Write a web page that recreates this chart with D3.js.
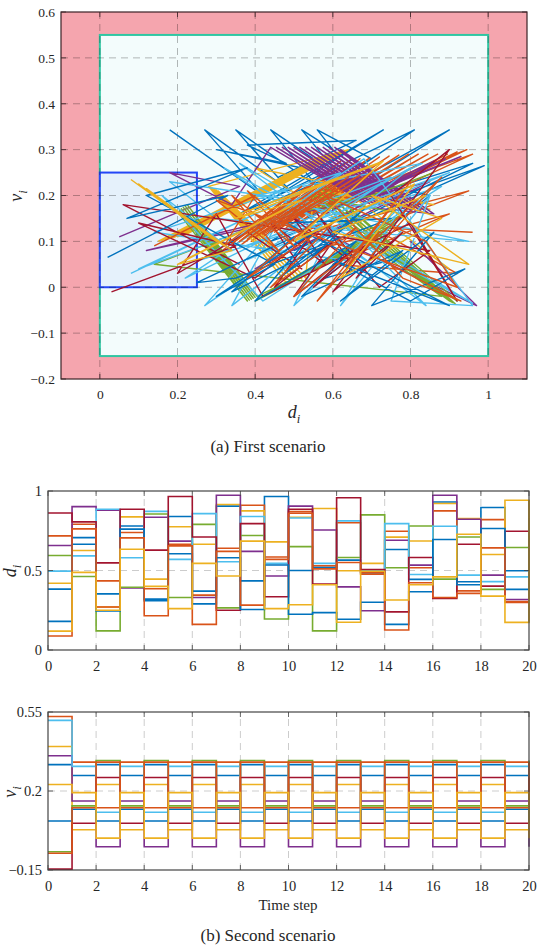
<!DOCTYPE html>
<html><head><meta charset="utf-8">
<script src="https://cdn.jsdelivr.net/npm/d3@7"></script>
<style>body{margin:0;background:#fff} text{font-family:"Liberation Serif","DejaVu Serif",serif;fill:#262626}</style>
</head><body><svg id="c" width="537" height="946"></svg>
<script>
// ---------- DATA ----------
const agentColors = ["#0072BD","#D95319","#EDB120","#7E2F8E","#77AC30","#4DBEEE","#A2142F","#0072BD","#D95319","#EDB120"];

// Scenario 1: (d_i, v_i) trajectories per agent
const trajA1 = [[0.18,0.343],[0.42,0.20],[0.27,0.343],[0.49,0.21],[0.35,0.343],[0.56,0.22],[0.44,0.343],[0.62,0.24],[0.52,0.343],[0.60,0.30],[0.56,0.343],[0.70,0.28],[0.40,0.17],[0.73,0.343],[0.36,0.16],[0.81,0.343],[0.42,0.12],[0.90,0.343],[0.44,0.10],[0.99,0.265],[0.50,0.08],[0.96,0.27],[0.62,0.18],[0.75,0.06],[0.58,0.02],[0.85,0.20],[0.30,0.30],[0.48,0.27],[0.38,0.31],[0.66,0.32],[0.46,0.24]];
const trajA2 = [[0.30,0.07],[0.62,0.275],[0.33,0.08],[0.645,0.278],[0.36,0.09],[0.67,0.28],[0.39,0.10],[0.695,0.282],[0.42,0.11],[0.72,0.284],[0.45,0.12],[0.745,0.286],[0.48,0.13],[0.77,0.288],[0.51,0.14],[0.795,0.29],[0.54,0.15],[0.82,0.29],[0.57,0.16],[0.845,0.29],[0.60,0.17],[0.87,0.29],[0.62,0.175],[0.895,0.29],[0.64,0.18],[0.92,0.295],[0.66,0.185],[0.945,0.30],[0.44,0.13],[0.96,0.29],[0.50,0.11],[0.95,0.21],[0.55,0.08],[0.90,0.16],[0.60,0.05],[0.92,0.03],[0.70,0.13],[0.96,0.12]];
const trajA3 = [[0.15,0.10],[0.57,0.285],[0.16,0.102],[0.58,0.288],[0.17,0.104],[0.59,0.29],[0.18,0.106],[0.60,0.292],[0.19,0.108],[0.61,0.294],[0.20,0.11],[0.62,0.296],[0.21,0.112],[0.63,0.298],[0.22,0.114],[0.64,0.30],[0.28,0.22],[0.48,0.01],[0.285,0.218],[0.49,0.012],[0.29,0.216],[0.50,0.014],[0.295,0.214],[0.51,0.016],[0.30,0.212],[0.52,0.018],[0.305,0.21],[0.53,0.02],[0.55,0.20],[0.85,0.17],[0.56,0.21],[0.86,0.18],[0.40,0.26],[0.70,0.10],[0.60,0.23],[0.90,0.04]];
const trajA4 = [[0.05,0.11],[0.36,0.22],[0.18,0.25],[0.34,0.18],[0.44,0.305],[0.68,0.185],[0.455,0.305],[0.695,0.182],[0.47,0.305],[0.71,0.18],[0.485,0.305],[0.725,0.178],[0.50,0.305],[0.74,0.176],[0.515,0.305],[0.755,0.174],[0.53,0.305],[0.77,0.172],[0.545,0.305],[0.785,0.17],[0.56,0.305],[0.80,0.168],[0.575,0.305],[0.815,0.166],[0.59,0.305],[0.83,0.164],[0.605,0.305],[0.845,0.162],[0.62,0.30],[0.86,0.16],[0.62,0.18],[0.93,0.285],[0.60,0.17],[0.89,0.28],[0.58,0.16],[0.86,0.275],[0.40,0.04],[0.85,0.23],[0.12,0.08],[0.50,0.15],[0.97,-0.04],[0.80,0.10]];
const trajA5 = [[0.20,0.165],[0.38,-0.03],[0.205,0.168],[0.385,-0.028],[0.21,0.171],[0.39,-0.026],[0.215,0.174],[0.395,-0.024],[0.22,0.177],[0.40,-0.022],[0.225,0.18],[0.405,-0.02],[0.74,0.12],[0.40,-0.03],[0.75,0.13],[0.405,-0.027],[0.76,0.14],[0.41,-0.024],[0.77,0.15],[0.415,-0.021],[0.78,0.16],[0.54,0.20],[0.90,-0.03],[0.55,0.205],[0.905,-0.032],[0.56,0.21],[0.91,-0.034],[0.57,0.215],[0.915,-0.036],[0.58,0.22],[0.92,-0.03],[0.60,0.15],[0.88,-0.02],[0.14,0.05],[0.45,0.15],[0.70,0.20],[0.86,0.25]];
const trajA6 = [[0.08,0.03],[0.55,0.22],[0.10,0.04],[0.75,0.24],[0.27,-0.04],[0.45,0.13],[0.34,-0.04],[0.60,0.13],[0.50,-0.04],[0.78,0.18],[0.62,-0.04],[0.85,0.20],[0.75,-0.03],[0.96,-0.04],[0.68,0.28],[0.22,0.02],[0.83,0.27],[0.40,0.20],[0.95,0.10],[0.30,0.15],[0.18,0.23],[0.58,0.18],[0.84,-0.04],[0.36,0.27],[0.96,-0.035],[0.32,0.26],[0.70,0.05],[0.14,0.12],[0.62,0.25],[0.26,0.06],[0.88,0.22],[0.42,-0.03],[0.16,0.20],[0.34,0.08],[0.90,0.25],[0.38,0.06],[0.80,0.26],[0.46,0.03]];
const trajA7 = [[0.03,-0.01],[0.35,0.09],[0.10,0.14],[0.40,0.02],[0.55,0.12],[0.45,0.00],[0.60,0.10],[0.50,-0.02],[0.65,0.08],[0.55,0.0],[0.70,0.10],[0.60,-0.01],[0.78,0.12],[0.66,0.02],[0.90,0.30],[0.75,0.20],[0.92,-0.03],[0.80,0.14],[0.42,-0.02],[0.30,0.16],[0.20,0.03],[0.38,0.12],[0.52,0.04],[0.44,0.14],[0.58,0.05],[0.50,0.15],[0.64,0.06],[0.56,0.16],[0.72,0.0],[0.85,0.08],[0.06,0.18],[0.36,0.05]];
const trajA8 = [[0.02,0.065],[0.33,0.20],[0.07,0.15],[0.38,0.26],[0.12,0.20],[0.45,0.05],[0.30,-0.02],[0.55,0.12],[0.40,-0.03],[0.66,0.10],[0.52,-0.02],[0.78,0.08],[0.62,-0.03],[0.86,0.12],[0.70,-0.04],[0.94,0.04],[0.80,-0.03],[0.60,0.06],[0.90,-0.04],[0.48,0.14],[0.75,0.15],[0.35,0.02],[0.25,0.01],[0.50,0.11],[0.34,-0.01],[0.58,0.09],[0.46,0.02],[0.68,0.17],[0.54,0.06]];
const trajA9 = [[0.14,0.09],[0.40,0.20],[0.32,0.09],[0.52,0.22],[0.34,0.095],[0.55,0.225],[0.36,0.10],[0.58,0.23],[0.38,0.105],[0.61,0.235],[0.40,0.11],[0.64,0.24],[0.42,0.115],[0.67,0.245],[0.44,0.12],[0.70,0.25],[0.38,0.02],[0.60,0.14],[0.44,0.00],[0.66,0.13],[0.50,-0.02],[0.72,0.12],[0.56,-0.03],[0.80,0.23],[0.64,0.05],[0.88,0.24],[0.70,0.07],[0.93,-0.03],[0.78,0.02],[0.58,0.20],[0.84,0.10],[0.92,0.0],[0.30,0.19],[0.46,0.08],[0.34,0.20],[0.50,0.09],[0.38,0.21],[0.54,0.10]];
const trajA10 = [[0.08,0.235],[0.30,0.10],[0.10,0.225],[0.32,0.09],[0.12,0.215],[0.34,0.08],[0.20,0.05],[0.50,0.18],[0.22,0.06],[0.52,0.19],[0.35,0.15],[0.72,0.27],[0.36,0.16],[0.73,0.275],[0.50,0.10],[0.80,0.22],[0.52,0.11],[0.81,0.225],[0.62,0.02],[0.88,0.15],[0.70,0.20],[0.95,0.05],[0.60,0.12],[0.84,0.20]];
const trajectories1 = [trajA1,trajA2,trajA3,trajA4,trajA5,trajA6,trajA7,trajA8,trajA9,trajA10];

// Scenario 1 regions
const safeRegion = {d0:0, d1:1, v0:-0.15, v1:0.55};
const targetRegion = {d0:0, d1:0.25, v0:0, v1:0.25};

// Scenario 2: d_i over time steps 0..20
const timeSteps = d3.range(0,21);
const dA1 = [.383,.707,.353,.78,.32,.84,.37,.905,.435,.965,.50,.52,.565,.485,.632,.444,.931,.429,.896,.498,.83];
const dA2 = [.718,.791,.435,.739,.385,.665,.345,.64,.91,.585,.87,.53,.80,.49,.747,.517,.875,.372,.82,.305,.305];
const dA3 = [.42,.626,.27,.837,.446,.775,.665,.915,.875,.68,.835,.89,.498,.545,.71,.686,.921,.827,.601,.942,.174];
const dA4 = [.657,.902,.88,.39,.835,.685,.33,.973,.62,.465,.905,.755,.397,.247,.69,.534,.973,.822,.471,.318,.318];
const dA5 = [.594,.462,.12,.395,.855,.33,.79,.265,.72,.195,.65,.12,.582,.85,.517,.78,.446,.711,.381,.645,.645];
const dA6 = [.496,.592,.885,.58,.872,.57,.858,.555,.84,.545,.83,.545,.812,.50,.795,.475,.778,.471,.43,.46,.46];
const dA7 = [.862,.806,.548,.885,.628,.965,.711,.25,.795,.335,.885,.415,.958,.506,.24,.582,.325,.665,.402,.747,.747];
const dA8 = [.18,.665,.245,.76,.31,.605,.29,.58,.255,.535,.225,.235,.193,.30,.161,.366,.695,.41,.764,.381,.381];
const dA9 = [.088,.762,.27,.705,.215,.655,.161,.62,.282,.57,.86,.51,.55,.477,.126,.423,.33,.356,.642,.299,.299];
const dA10 = [.119,.488,.25,.634,.40,.26,.545,.465,.685,.26,.285,.41,.175,.495,.314,.41,.46,.728,.339,.174,.942];
const dSeries = [dA1,dA2,dA3,dA4,dA5,dA6,dA7,dA8,dA9,dA10];

// Scenario 2: v_i over time steps 0..20
const vA1 = [.317,.269,.317,.269,.317,.269,.317,.269,.317,.269,.317,.269,.317,.269,.317,.269,.317,.269,.317,.269,.317];
const vA2 = [.53,.328,.126,.328,.126,.328,.126,.328,.126,.328,.126,.328,.126,.328,.126,.328,.126,.328,.126,.328,.126];
const vA3 = [.397,.028,.229,.028,.229,.028,.229,.028,.229,.028,.229,.028,.229,.028,.229,.028,.229,.028,.229,.028,.229];
const vA4 = [.356,.156,-.047,.156,-.047,.156,-.047,.156,-.047,.156,-.047,.156,-.047,.156,-.047,.156,-.047,.156,-.047,.156,-.047];
const vA5 = [-.069,.134,.335,.134,.335,.134,.335,.134,.335,.134,.335,.134,.335,.134,.335,.134,.335,.134,.335,.134,.335];
const vA6 = [.513,.309,.106,.309,.106,.309,.106,.309,.106,.309,.106,.309,.106,.309,.106,.309,.106,.309,.106,.309,.106];
const vA7 = [-.146,.057,.26,.057,.26,.057,.26,.057,.26,.057,.26,.057,.26,.057,.26,.057,.26,.057,.26,.057,.26];
const vA8 = [.067,.119,.067,.119,.067,.119,.067,.119,.067,.119,.067,.119,.067,.119,.067,.119,.067,.119,.067,.119,.067];
const vA9 = [-.076,.126,.328,.126,.328,.126,.328,.126,.328,.126,.328,.126,.328,.126,.328,.126,.328,.126,.328,.126,.328];
const vA10 = [.229,.193,-.009,.193,-.009,.193,-.009,.193,-.009,.193,-.009,.193,-.009,.193,-.009,.193,-.009,.193,-.009,.193,-.009];
const vSeries = [vA1,vA2,vA3,vA4,vA5,vA6,vA7,vA8,vA9,vA10];

// Tick labels
const topXTicks = [0,0.2,0.4,0.6,0.8,1];
const topYTicks = [-0.2,-0.1,0,0.1,0.2,0.3,0.4,0.5,0.6];
const timeTicks = [0,2,4,6,8,10,12,14,16,18,20];
const dTicks = [0,0.5,1];
const vTicks = [-0.15,0.2,0.55];

// ---------- DRAW ----------
const svg = d3.select("#c");

function frameAxes(g, x, y, xt, yt, xfmt, yfmt, color, fs) {
  const [x0,x1] = x.range(), [y0,y1] = y.range();
  const tl = 5;
  const tg = g.append("g").attr("stroke", color).attr("stroke-width", 0.8);
  xt.forEach(t => {
    tg.append("line").attr("x1", x(t)).attr("x2", x(t)).attr("y1", y0).attr("y2", y0 - tl);
    tg.append("line").attr("x1", x(t)).attr("x2", x(t)).attr("y1", y1).attr("y2", y1 + tl);
  });
  yt.forEach(t => {
    tg.append("line").attr("x1", x0).attr("x2", x0 + tl).attr("y1", y(t)).attr("y2", y(t));
    tg.append("line").attr("x1", x1).attr("x2", x1 - tl).attr("y1", y(t)).attr("y2", y(t));
  });
  g.append("rect").attr("x", x0).attr("y", y1).attr("width", x1 - x0).attr("height", y0 - y1)
    .attr("fill", "none").attr("stroke", color).attr("stroke-width", 1.2);
  const ax = g.append("g").attr("transform", `translate(0,${y0})`)
    .call(d3.axisBottom(x).tickValues(xt).tickFormat(xfmt).tickSize(0).tickPadding(fs*0.75));
  const ay = g.append("g").attr("transform", `translate(${x0},0)`)
    .call(d3.axisLeft(y).tickValues(yt).tickFormat(yfmt).tickSize(0).tickPadding(6));
  [ax, ay].forEach(a => {
    a.attr("font-family", null);
    a.select(".domain").remove();
    a.selectAll("text").attr("font-size", fs).attr("fill", "#333")
      .style("font-family", '"Liberation Serif","Times New Roman",serif');
  });
}

function gridLines(g, x, y, xs, ys, color, opacity) {
  const [x0,x1] = x.range(), [y0,y1] = y.range();
  const gg = g.append("g").attr("stroke", color).attr("stroke-opacity", opacity)
    .attr("stroke-width", 1).attr("stroke-dasharray", "7,5");
  xs.forEach(t => gg.append("line").attr("x1", x(t)).attr("x2", x(t)).attr("y1", y0).attr("y2", y1));
  ys.forEach(t => gg.append("line").attr("x1", x0).attr("x2", x1).attr("y1", y(t)).attr("y2", y(t)));
}

function axisLabel(g, x, y, main, sub, rotate, fs) {
  const t = g.append("text").attr("x", x).attr("y", y).attr("text-anchor", "middle")
    .attr("font-size", fs).attr("font-style", "italic")
    .attr("transform", rotate ? `rotate(-90,${x},${y})` : null);
  t.append("tspan").text(main);
  t.append("tspan").attr("font-size", fs * 0.7).attr("dy", fs * 0.25).text(sub);
}

// ---- Top chart ----
const xT = d3.scaleLinear([-0.1, 1.1], [61, 527]);
const yT = d3.scaleLinear([-0.2, 0.6], [379, 12]);
const gT = svg.append("g");
gT.append("rect").attr("x", 61).attr("y", 12).attr("width", 466).attr("height", 367).attr("fill", "#f5a5ae");
gT.append("rect").attr("x", xT(safeRegion.d0)).attr("y", yT(safeRegion.v1))
  .attr("width", xT(safeRegion.d1) - xT(safeRegion.d0)).attr("height", yT(safeRegion.v0) - yT(safeRegion.v1))
  .attr("fill", "#f3fcfc").attr("stroke", "#2fc6a2").attr("stroke-width", 2);
gT.append("rect").attr("x", xT(targetRegion.d0)).attr("y", yT(targetRegion.v1))
  .attr("width", xT(targetRegion.d1) - xT(targetRegion.d0)).attr("height", yT(targetRegion.v0) - yT(targetRegion.v1))
  .attr("fill", "#e5f1fb").attr("stroke", "#2346f7").attr("stroke-width", 2);
gridLines(gT, xT, yT, topXTicks, topYTicks.filter(v => v > -0.2 && v < 0.6), "#000", 0.28);
const lineT = d3.line().x(p => xT(p[0])).y(p => yT(p[1]));
trajectories1.forEach((tr, i) => {
  gT.append("path").attr("d", lineT(tr)).attr("fill", "none")
    .attr("stroke", agentColors[i]).attr("stroke-width", 1.4).attr("stroke-linejoin", "round");
});
frameAxes(gT, xT, yT, topXTicks, topYTicks, d => d3.format("~g")(d), d => d3.format("~g")(d), "#3b2226", 13.5);
axisLabel(gT, 294, 418, "d", "i", false, 18);
axisLabel(gT, 22, 196, "v", "i", true, 18);
gT.append("text").attr("x", 268).attr("y", 452).attr("text-anchor", "middle").attr("font-size", 17).text("(a) First scenario");

// ---- Middle chart ----
const xM = d3.scaleLinear([0, 20], [48, 529]);
const yM = d3.scaleLinear([0, 1], [650, 491]);
const gM = svg.append("g");
gridLines(gM, xM, yM, timeTicks.filter(t => t > 0 && t < 20), [0.5], "#000", 0.2);
const stairM = d3.line().curve(d3.curveStepAfter).x((v, i) => xM(timeSteps[i])).y(v => yM(v));
dSeries.forEach((s, i) => {
  gM.append("path").attr("d", stairM(s)).attr("fill", "none").attr("stroke", agentColors[i]).attr("stroke-width", 1.6);
});
frameAxes(gM, xM, yM, timeTicks, dTicks, d => d, d => d3.format("~g")(d), "#444", 14.5);
axisLabel(gM, 16, 571, "d", "i", true, 18);

// ---- Bottom chart ----
const xB = d3.scaleLinear([0, 20], [48, 529]);
const yB = d3.scaleLinear([-0.15, 0.55], [870, 712]);
const gB = svg.append("g");
gridLines(gB, xB, yB, timeTicks.filter(t => t > 0 && t < 20), [0.2], "#000", 0.2);
const stairB = d3.line().curve(d3.curveStepAfter).x((v, i) => xB(timeSteps[i])).y(v => yB(v));
vSeries.forEach((s, i) => {
  gB.append("path").attr("d", stairB(s)).attr("fill", "none").attr("stroke", agentColors[i]).attr("stroke-width", 1.6);
});
frameAxes(gB, xB, yB, timeTicks, vTicks, d => d, d => d3.format("~g")(d), "#444", 14.5);
axisLabel(gB, 16, 792, "v", "i", true, 18);
gB.append("text").attr("x", 288).attr("y", 910).attr("text-anchor", "middle").attr("font-size", 15).text("Time step");
gB.append("text").attr("x", 268).attr("y", 941).attr("text-anchor", "middle").attr("font-size", 17).text("(b) Second scenario");
</script></body></html>
